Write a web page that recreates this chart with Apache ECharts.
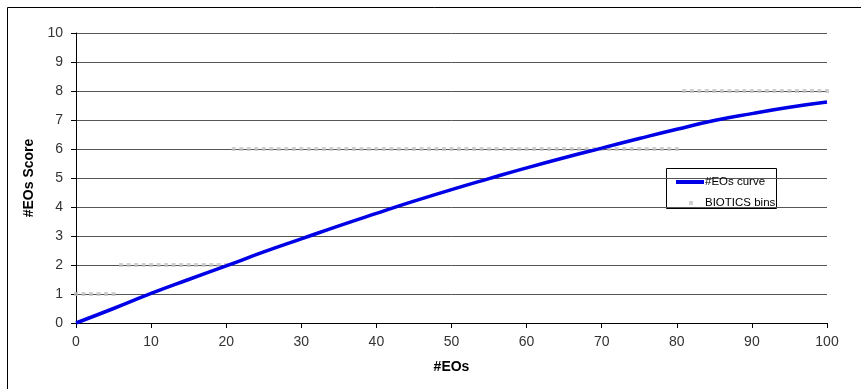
<!DOCTYPE html>
<html><head><meta charset="utf-8">
<script src="https://cdn.jsdelivr.net/npm/echarts@6/dist/echarts.min.js"></script>
<style>html,body{margin:0;padding:0;background:#fff}#c{width:861px;height:389px}</style>
</head><body><div id="c"></div>
<script>
// #EOs curve (x = number of EOs, y = score)
const curveX = [0,5,10,15,20,25,30,35,40,45,50,55,60,65,70,75,80,85,90,95,100];
const curveY = [0,0.5,1.02,1.5,1.97,2.45,2.9,3.35,3.78,4.2,4.6,4.98,5.35,5.7,6.03,6.36,6.68,6.98,7.22,7.44,7.62];
// BIOTICS bins: [from, to, score]
const binFrom = [0, 6, 21, 81];
const binTo = [5, 20, 80, 100];
const binScore = [1, 2, 6, 8];
const xTicks = [0,10,20,30,40,50,60,70,80,90,100];
const yTicks = [0,1,2,3,4,5,6,7,8,9,10];

const curveData = curveX.map((x,i)=>[x, curveY[i]]);
const binData = [];
binFrom.forEach((f,i)=>{ for(let x=f;x<=binTo[i];x++) binData.push([x, binScore[i]]); });

const font = 'Liberation Sans, Arial, sans-serif';
const chart = echarts.init(document.getElementById('c'), null, {renderer:'canvas'});
chart.setOption({
  animation:false,
  backgroundColor:'#fff',
  grid:{left:76,right:34,top:33,bottom:66,containLabel:false},
  xAxis:{type:'value',min:xTicks[0],max:xTicks[xTicks.length-1],interval:10,
    name:'#EOs',nameLocation:'middle',nameGap:37,
    nameTextStyle:{fontFamily:font,fontWeight:'bold',fontSize:14,color:'#000'},
    axisLine:{lineStyle:{color:'#000',width:1}},
    axisTick:{show:true,length:5,lineStyle:{color:'#000'}},
    axisLabel:{fontFamily:font,fontSize:14,color:'#333',margin:12},
    splitLine:{show:false}},
  yAxis:{type:'value',min:yTicks[0],max:yTicks[yTicks.length-1],interval:1,
    name:'#EOs Score',nameLocation:'middle',nameGap:38,
    nameTextStyle:{fontFamily:font,fontWeight:'bold',fontSize:14,color:'#000'},
    axisLine:{show:true,lineStyle:{color:'#000',width:1}},
    axisTick:{show:true,length:5,lineStyle:{color:'#000'}},
    axisLabel:{fontFamily:font,fontSize:14,color:'#333',margin:13},
    splitLine:{show:true,lineStyle:{color:'#555',width:1}}},
  legend:[
    {data:['#EOs curve'],left:671,top:171,icon:'rect',itemWidth:28,itemHeight:4,itemGap:5,
     textStyle:{fontFamily:font,fontSize:11.5,color:'#000',padding:[0,0,0,-4]}},
    {data:['BIOTICS bins'],left:684,top:192,icon:'rect',itemWidth:4,itemHeight:4,
     textStyle:{fontFamily:font,fontSize:11.5,color:'#000',padding:[0,0,0,7]}}
  ],
  graphic:[
    {type:'rect',shape:{x:7.5,y:7.5,width:900,height:400},style:{fill:'none',stroke:'#000',lineWidth:1},silent:true},
    {type:'rect',shape:{x:666.5,y:168.5,width:110,height:40},style:{fill:'#fff',stroke:'#000',lineWidth:1},z:-1,zlevel:0,silent:true}
  ],
  series:[
    {name:'BIOTICS bins',type:'scatter',data:binData,symbol:'rect',symbolSize:4,
     itemStyle:{color:'#c4c4c4'},z:2},
    {name:'#EOs curve',type:'line',data:curveData,smooth:true,showSymbol:false,symbol:'none',
     lineStyle:{color:'#0000e6',width:3.5},itemStyle:{color:'#0000e6'},z:3}
  ]
});
</script></body></html>
